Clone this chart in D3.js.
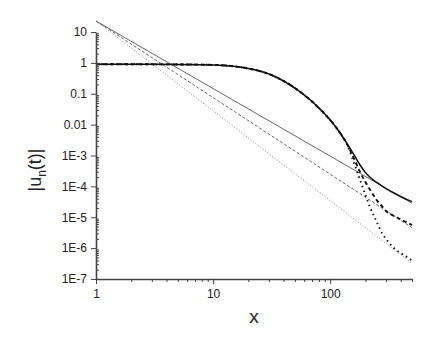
<!DOCTYPE html>
<html lang="en">
<head>
<meta charset="UTF-8">
<title>|u_n(t)|</title>
<script src="https://cdnjs.cloudflare.com/ajax/libs/d3/7.8.5/d3.min.js"></script>
<style>
    body { margin: 0; background: #fff; }
    text { font-family: "Liberation Sans", Arial, sans-serif; fill: #222; }
</style>
</head>
<body>
<div id="chart"></div>
<script>
    // values
    var thickX = [1, 2, 5, 10, 15, 20, 25, 30, 40, 50, 60, 70, 80, 90, 100, 120, 140, 160, 180, 200, 220, 250, 280, 300, 350, 400, 450, 500];
    var thickSolid = [0.9, 0.9, 0.89, 0.86, 0.774, 0.657, 0.546, 0.436, 0.259, 0.153, 0.0912, 0.0561, 0.0346, 0.0221, 0.0141,
        5.77e-3, 2.36e-3, 1.04e-3, 4.92e-4, 2.81e-4, 1.94e-4, 1.34e-4, 1.0e-4, 8.5e-5, 6.1e-5, 4.7e-5, 3.8e-5, 3.2e-5];
    var thickDashed = [0.9, 0.9, 0.89, 0.86, 0.774, 0.657, 0.546, 0.436, 0.259, 0.153, 0.0912, 0.0561, 0.0346, 0.0221, 0.0141,
        5.77e-3, 2.25e-3, 7.9e-4, 2.92e-4, 1.39e-4, 7.6e-5, 3.6e-5, 2.15e-5, 1.59e-5, 1.1e-5, 8.5e-6, 6.8e-6, 5.6e-6];
    var thickDotted = [0.9, 0.9, 0.89, 0.86, 0.774, 0.657, 0.546, 0.436, 0.259, 0.153, 0.0912, 0.0561, 0.0346, 0.0221, 0.0141,
        5.77e-3, 2.2e-3, 5.6e-4, 1.61e-4, 5.3e-5, 2.0e-5, 7.0e-6, 2.87e-6, 1.98e-6, 1.01e-6, 6.95e-7, 5.2e-7, 4.0e-7];

    var thinX = [1, 500];
    var thinSolid = [22.7, 2.83e-5];
    var thinDashed = [22.7, 4.6e-6];
    var thinDotted = [22.7, 3.2e-7];

    var xMajor = [1, 10, 100];
    var xMajorLabels = ["1", "10", "100"];
    var yMajor = [1e-7, 1e-6, 1e-5, 1e-4, 1e-3, 1e-2, 1e-1, 1, 10];
    var yMajorLabels = ["1E-7", "1E-6", "1E-5", "1E-4", "1E-3", "0.01", "0.1", "1", "10"];

    var width = 436, height = 354;
    var margin = { left: 96, top: 32, right: 24, bottom: 75 };

    var x = d3.scaleLog().domain([1, 500]).range([margin.left, width - margin.right]);
    var y = d3.scaleLog().domain([1e-7, 10]).range([height - margin.bottom, margin.top]);

    var xMinor = [];
    [1, 10, 100].forEach(function (d) {
        for (var k = 2; k <= 9; k++) if (d * k <= 500) xMinor.push(d * k);
    });
    var yMinor = [];
    yMajor.slice(0, -1).forEach(function (d) {
        for (var k = 2; k <= 9; k++) yMinor.push(d * k);
    });

    var svg = d3.select("#chart").append("svg")
        .attr("width", width)
        .attr("height", height);

    var line = d3.line()
        .x(function (d) { return x(d[0]); })
        .y(function (d) { return y(d[1]); });
    var smooth = d3.line()
        .x(function (d) { return x(d[0]); })
        .y(function (d) { return y(d[1]); })
        .curve(d3.curveMonotoneX);

    function pairs(xs, ys) {
        return xs.map(function (v, i) { return [v, ys[i]]; });
    }

    // thin reference lines
    svg.append("path").attr("d", line(pairs(thinX, thinSolid)))
        .attr("fill", "none").attr("stroke", "#555").attr("stroke-width", 0.9);
    svg.append("path").attr("d", line(pairs(thinX, thinDashed)))
        .attr("fill", "none").attr("stroke", "#555").attr("stroke-width", 0.9)
        .attr("stroke-dasharray", "3,2");
    svg.append("path").attr("d", line(pairs(thinX, thinDotted)))
        .attr("fill", "none").attr("stroke", "#777").attr("stroke-width", 0.9)
        .attr("stroke-dasharray", "1,2");

    // thick curves
    svg.append("path").attr("d", smooth(pairs(thickX, thickDotted)))
        .attr("fill", "none").attr("stroke", "#111").attr("stroke-width", 1.9)
        .attr("stroke-dasharray", "1.5,3.5");
    svg.append("path").attr("d", smooth(pairs(thickX, thickDashed)))
        .attr("fill", "none").attr("stroke", "#111").attr("stroke-width", 1.9)
        .attr("stroke-dasharray", "4,3");
    svg.append("path").attr("d", smooth(pairs(thickX, thickSolid)))
        .attr("fill", "none").attr("stroke", "#111").attr("stroke-width", 1.5);

    // axes
    var gx = svg.append("g").attr("transform", "translate(0," + y(1e-7) + ")");
    gx.call(d3.axisBottom(x).tickValues(xMinor).tickSize(3).tickFormat(""))
        .call(function (g) { g.select(".domain").remove(); });
    gx.append("g").call(d3.axisBottom(x).tickValues(xMajor).tickSize(5).tickSizeOuter(0)
        .tickFormat(function (d, i) { return xMajorLabels[i]; }));

    var gy = svg.append("g").attr("transform", "translate(" + x(1) + ",0)");
    gy.call(d3.axisRight(y).tickValues(yMinor).tickSize(3).tickFormat(""))
        .call(function (g) { g.select(".domain").remove(); });
    gy.append("g").call(d3.axisLeft(y).tickValues(yMajor).tickSize(5).tickSizeOuter(0)
        .tickFormat(function (d, i) { return yMajorLabels[i]; }));

    svg.selectAll(".domain").attr("stroke", "#444").attr("stroke-width", 1.6);
    svg.selectAll(".tick line").attr("stroke", "#444").attr("stroke-width", 1);
    svg.selectAll(".tick text").attr("font-size", 12).attr("fill", "#222")
        .style("font-family", "'Liberation Sans', Arial, sans-serif");
    gx.selectAll(".tick text").attr("dy", "0.9em");
    gy.selectAll(".tick text").attr("x", -9);

    // axis titles
    svg.append("text")
        .attr("x", 254).attr("y", 323)
        .attr("text-anchor", "middle")
        .attr("font-size", 19)
        .text("x");

    var yt = svg.append("text")
        .attr("transform", "translate(41,170) rotate(-90)")
        .attr("text-anchor", "middle")
        .attr("font-size", 18);
    yt.append("tspan").text("|u");
    yt.append("tspan").attr("font-size", 12).attr("dy", 5).text("n");
    yt.append("tspan").attr("dy", -5).text("(t)|");
</script>
</body>
</html>
